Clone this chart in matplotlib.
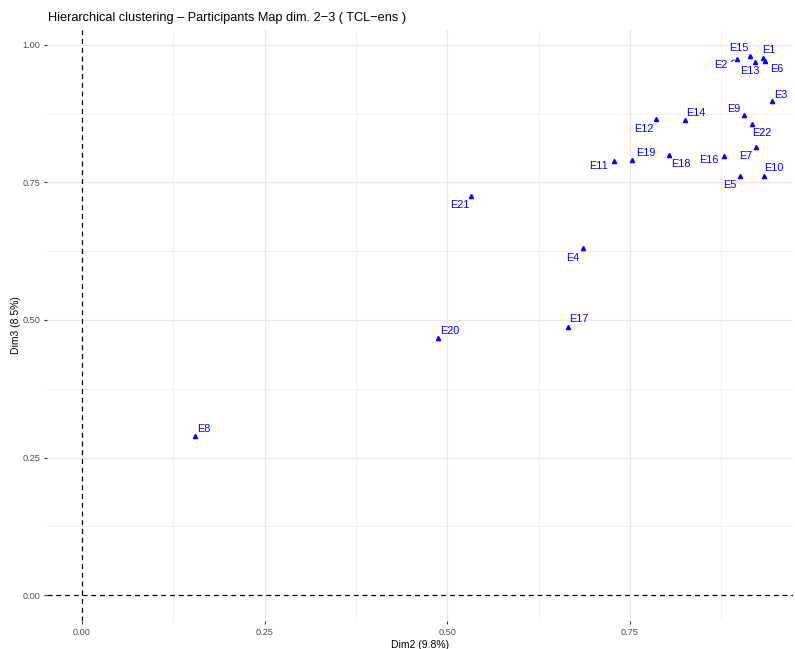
import matplotlib
matplotlib.use("Agg")
import matplotlib.pyplot as plt

plt.rcParams["font.family"] = ["Liberation Sans", "DejaVu Sans"]

labels = ["E1", "E2", "E3", "E4", "E5", "E6", "E7", "E8", "E9", "E10", "E11",
          "E12", "E13", "E14", "E15", "E16", "E17", "E18", "E19", "E20", "E21", "E22"]
dim2 = [0.9315, 0.896, 0.944, 0.685, 0.9005, 0.934, 0.9229, 0.1546, 0.9056, 0.9329, 0.7276,
        0.785, 0.9215, 0.8253, 0.914, 0.8786, 0.6647, 0.8038, 0.7532, 0.4877, 0.532, 0.9165]
dim3 = [0.977, 0.975, 0.8976, 0.6315, 0.7624, 0.970, 0.814, 0.289, 0.8733, 0.7612, 0.7885,
        0.866, 0.9685, 0.8636, 0.980, 0.798, 0.487, 0.8006, 0.791, 0.467, 0.7255, 0.857]

# label offsets in pixels (dx right, dy down)
offsets = {"E1": (6, -8), "E15": (-11, -8), "E2": (-16, 6), "E13": (-5, 9), "E6": (12, 8),
           "E3": (9, -6), "E9": (-10, -6), "E22": (10, 9), "E14": (11, -7), "E12": (-12, 10),
           "E7": (-11, 9), "E16": (-15, 4), "E19": (13, -7), "E18": (12, 9), "E11": (-15, 5),
           "E5": (-10, 9), "E10": (10, -8), "E21": (-11, 9), "E4": (-10, 10), "E17": (11, -8),
           "E20": (11, -7), "E8": (9, -7)}

W, H = 795, 649
fig = plt.figure(figsize=(W / 100, H / 100), dpi=100)
left, right, top, bottom = 47, 793, 30, 621
ax = fig.add_axes([left / W, 1 - bottom / H, (right - left) / W, (bottom - top) / H])

ax.set_xlim(-0.0479, 0.973)
ax.set_ylim(-0.047, 1.027)

for v in [0.125, 0.375, 0.625, 0.875]:
    ax.axvline(v, color="#efefef", lw=0.6, zorder=0)
    ax.axhline(v, color="#efefef", lw=0.6, zorder=0)
for v in [0.25, 0.5, 0.75]:
    ax.axvline(v, color="#e8e8e8", lw=0.9, zorder=0)
for v in [0.25, 0.5, 0.75, 1.0]:
    ax.axhline(v, color="#e8e8e8", lw=0.9, zorder=0)

ax.axhline(0, color="black", lw=0.9, ls=(0, (4, 3)), zorder=1)
ax.axvline(0, color="black", lw=0.9, ls=(0, (4, 3)), zorder=1)

ax.plot(dim2, dim3, ls="none", marker="^", color="blue", markersize=3.0, zorder=3)

for lab, x, y in zip(labels, dim2, dim3):
    dx, dy = offsets[lab]
    ax.annotate(lab, (x, y), xytext=(dx * 0.72, -dy * 0.72), textcoords="offset points",
                ha="center", va="center", color="blue", fontsize=7.8, zorder=4)
    if lab == "E2":
        ax.annotate("", (x, y), xytext=((dx + 8) * 0.72, -(dy - 2) * 0.72),
                    textcoords="offset points",
                    arrowprops=dict(arrowstyle="-", color="blue", lw=0.7))

for s in ax.spines.values():
    s.set_visible(False)
ax.set_xticks([0, 0.25, 0.5, 0.75])
ax.set_xticklabels(["0.00", "0.25", "0.50", "0.75"])
ax.set_yticks([0, 0.25, 0.5, 0.75, 1.0])
ax.set_yticklabels(["0.00", "0.25", "0.50", "0.75", "1.00"])
ax.tick_params(axis="both", labelsize=6.6, labelcolor="#4d4d4d", color="#333333",
               length=2.5, width=0.8, pad=2.5)
for t in ax.get_xticklabels() + ax.get_yticklabels():
    t.set_family(["Liberation Sans Narrow", "Liberation Sans"])
ax.set_xlabel("Dim2 (9.8%)", fontsize=7.5, labelpad=2)
ax.set_ylabel("Dim3 (8.5%)", fontsize=7.5, labelpad=1)
fig.text(48 / W, 1 - 18 / H, "Hierarchical clustering \u2013 Participants Map dim. 2\u22123 ( TCL\u2212ens )",
         fontsize=9.2, ha="left", va="center")

fig.savefig("out.png", dpi=100, facecolor="white")
